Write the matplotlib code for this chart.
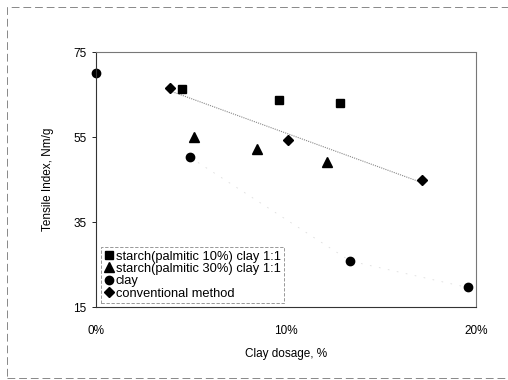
import numpy as np
import matplotlib
matplotlib.use('Agg')
from matplotlib import pyplot as plt
from matplotlib.patches import Rectangle

plt.rcParams['font.family'] = ['Liberation Sans', 'DejaVu Sans']

square_x = [0.045, 0.0965, 0.1286]
square_y = [66.2, 63.7, 62.9]
triangle_x = [0.0517, 0.0846, 0.1218]
triangle_y = [55.0, 52.2, 49.1]
clay_x = [0.0, 0.0496, 0.1339, 0.1956]
clay_y = [70.0, 50.2, 25.8, 19.6]
conv_x = [0.0391, 0.1012, 0.1718]
conv_y = [66.6, 54.3, 44.9]

labels = ['starch(palmitic 10%) clay 1:1', 'starch(palmitic 30%) clay 1:1',
          'clay', 'conventional method']
x_ticks = [0.0, 0.1, 0.2]
x_tick_labels = ['0%', '10%', '20%']
y_ticks = [15, 35, 55, 75]

fig = plt.figure(figsize=(5.08, 3.8), dpi=100)
ax = fig.add_axes([0.189, 0.192, 0.748, 0.671])

# outer dashed frame of the scanned page
fig.patches.append(Rectangle((7 / 508, 2 / 380), 1.0, 371 / 380, transform=fig.transFigure,
                             fill=False, edgecolor='#888888', linestyle=(0, (8, 4)), linewidth=0.7))

# trend lines
k, b = np.polyfit(conv_x, conv_y, 1)
tx = np.array([conv_x[0], conv_x[-1]])
ax.plot(tx, k * tx + b, color='#888888', linestyle=(0, (1, 1)), linewidth=0.8, zorder=1)
ax.plot(clay_x[1:], clay_y[1:], color='#dddddd', linestyle=(0, (2, 9)), linewidth=0.6, zorder=1)

ms = 6
ax.plot(square_x, square_y, 's', color='black', ms=ms, linestyle='none', label=labels[0])
ax.plot(triangle_x, triangle_y, '^', color='black', ms=ms + 1, linestyle='none', label=labels[1])
ax.plot(clay_x, clay_y, 'o', color='black', ms=ms, linestyle='none', label=labels[2], clip_on=False)
ax.plot(conv_x, conv_y, 'D', color='black', ms=ms - 1, linestyle='none', label=labels[3])

ax.set_xlim(0, 0.2)
ax.set_ylim(15, 75)
ax.set_xticks(x_ticks)
ax.set_xticklabels(x_tick_labels)
ax.set_yticks(y_ticks)
ax.tick_params(axis='x', length=0, pad=13, labelsize=8.5)
ax.tick_params(axis='y', length=3, direction='out', width=0.6, pad=4, labelsize=8.5)

for side in ['left', 'bottom']:
    ax.spines[side].set_color('#333333')
    ax.spines[side].set_linewidth(0.8)
for side in ['top', 'right']:
    ax.spines[side].set_color('#777777')
    ax.spines[side].set_linestyle((0, (1, 1)))
    ax.spines[side].set_linewidth(0.8)

ax.set_xlabel('Clay dosage, %', fontsize=8.5, labelpad=8)
ax.set_ylabel('Tensile Index, Nm/g', fontsize=8.5, labelpad=14)

leg = ax.legend(loc='lower left', bbox_to_anchor=(0.014, 0.014), fontsize=9.3,
                handlelength=0.6, handletextpad=0.2, labelspacing=0.02,
                borderpad=0.3, borderaxespad=0, fancybox=False, framealpha=1)
leg.get_frame().set_edgecolor('#888888')
leg.get_frame().set_linestyle((0, (4, 2)))
leg.get_frame().set_linewidth(0.6)

fig.savefig('out.png', dpi=100)
